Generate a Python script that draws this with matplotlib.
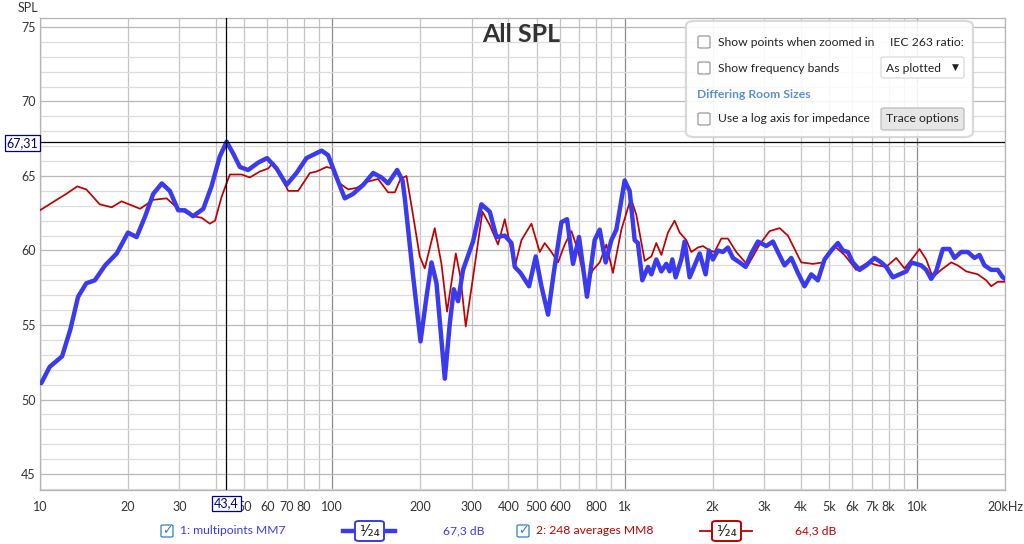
import matplotlib
matplotlib.use("Agg")
import matplotlib.pyplot as plt
from matplotlib.patches import FancyBboxPatch
from matplotlib.lines import Line2D

plt.rcParams['font.family'] = ['Lato', 'DejaVu Sans']

# trace 1: multipoints MM7 (frequency in Hz, SPL in dB)
blue_freq = [10.1, 10.8, 11.9, 12.7, 13.5, 14.4, 15.4, 16.7, 18.3, 20.0, 21.4, 22.9, 24.4, 26.1,
             27.8, 29.7, 31.3, 33.4, 36.2, 38.6, 41.2, 43.5, 45.8, 48.3, 51.5, 55.8, 59.8, 64.5,
             69.7, 75.4, 81.6, 91.9, 96.7, 103.4, 110.3, 117.8, 127.5, 137.9, 147.3, 155.1, 166.6,
             173.8, 177, 188.4, 200.3, 210.0, 218.4, 227.2, 242.5, 252.2, 260.3, 269.2, 280.0,
             302.9, 323.6, 345.6, 364.3, 388.9, 410.0, 420.8, 440.1, 470.9, 496.4, 519.2, 546.9,
             572.0, 607.7, 635.0, 665.8, 698.1, 743.2, 789.6, 821.3, 861.0, 900.6, 936.8, 1000,
             1040, 1082, 1110, 1149, 1202, 1234, 1283, 1335, 1388, 1425, 1456, 1494, 1562, 1604,
             1668, 1735, 1805, 1892, 1942, 2004, 2084, 2168, 2255, 2346, 2474, 2593, 2712, 2856,
             3051, 3214, 3343, 3524, 3715, 3913, 4124, 4348, 4580, 4828, 5090, 5361, 5577, 5800,
             6033, 6361, 6706, 7157, 7545, 7847, 8269, 8716, 9188, 9555, 9938, 10337, 10752,
             11183, 11632, 12252, 12916, 13435, 14162, 14918, 15728, 16360, 17016, 17939, 18893,
             19651, 20000]
blue_spl = [51.1, 52.2, 52.9, 54.7, 56.9, 57.8, 58.0, 59.0, 59.8, 61.2, 60.9, 62.3, 63.8, 64.5,
            64.0, 62.7, 62.7, 62.3, 62.8, 64.3, 66.3, 67.3, 66.5, 65.6, 65.4, 65.9, 66.2, 65.5,
            64.4, 65.2, 66.2, 66.7, 66.4, 64.9, 63.5, 63.8, 64.4, 65.2, 64.9, 64.5, 65.4,
            64.7, 63.5, 58.5, 53.9, 56.9, 59.2, 57.8, 51.4, 55.1, 57.4, 56.6, 58.7,
            60.6, 63.1, 62.6, 60.9, 61.0, 60.5, 58.9, 58.5, 57.6, 59.6, 57.6, 55.7,
            58.5, 61.9, 62.1, 59.1, 60.9, 56.9, 60.7, 61.4, 59.2, 60.7, 61.4, 64.7,
            64.0, 60.7, 60.5, 58.0, 58.9, 58.4, 59.4, 58.6, 59.1, 58.6, 59.4, 58.2, 59.4, 60.6,
            58.2, 59.0, 59.8, 58.4, 60.0, 59.4, 60.0, 59.9, 60.2, 59.5, 59.2, 58.9, 59.8, 60.6,
            60.3, 60.6, 59.9, 59.0, 59.5, 58.5, 57.6, 58.4, 58.0, 59.4, 60.0, 60.5, 60.0, 59.9,
            59.2, 58.7, 59.0, 59.5, 59.2, 58.9, 58.2, 58.4, 58.6, 59.2, 59.1, 59.0, 58.7,
            58.1, 58.6, 60.1, 60.1, 59.5, 59.9, 59.9, 59.5, 59.7, 59.0, 58.7, 58.7,
            58.2, 58.1]

# trace 2: 248 averages MM8
red_freq = [10.0, 11.4, 12.3, 13.4, 14.4, 16.0, 17.6, 19.0, 22.0, 24.4, 27.1, 29.7, 33.4, 35.7,
            38.1, 39.7, 41.8, 44.6, 48.9, 52.2, 56.5, 60.3, 62.8, 66.1, 70.6, 76.4, 83.8, 88.3,
            95.5, 100.6, 106.1, 113.3, 121.0, 130.9, 143.4, 155.1, 163.6, 171.1, 179.3, 188.0,
            199.1, 207.1, 224.0, 236.2, 246.9, 264.5, 274.4, 286.0, 302.9, 326.2, 345.6, 368.8,
            388.9, 420.8, 443.6, 479.8, 512.2, 532.8, 561.6, 591.6, 623.6, 657.5, 692.4, 735.7,
            779.2, 821.3, 865.8, 912.0, 974.3, 1050, 1096, 1171, 1234, 1283, 1335, 1406, 1482,
            1542, 1625, 1690, 1781, 1852, 1953, 2031, 2141, 2255, 2409, 2640, 2894, 3131, 3388,
            3617, 4019, 4404, 4762, 5222, 5650, 6195, 6790, 7341, 7847, 8491, 9064, 9674, 10197,
            10752, 11324, 12093, 13088, 13790, 14733, 16142, 17245, 17939, 18893, 20000]
red_spl = [62.7, 63.4, 63.8, 64.3, 64.1, 63.1, 62.9, 63.3, 62.8, 63.4, 63.5, 62.8, 62.3, 62.2,
           61.8, 62.0, 63.6, 65.1, 65.1, 64.9, 65.3, 65.5, 65.9, 65.2, 64.0, 64.0, 65.2, 65.3,
           65.6, 65.5, 64.5, 64.1, 64.2, 64.6, 64.8, 63.9, 63.9, 64.8, 65.0, 62.6,
           59.6, 58.8, 61.5, 59.1, 55.9, 59.8, 58.2, 54.9, 58.2, 62.6, 61.7, 60.4,
           62.1, 58.9, 60.7, 61.8, 59.9, 60.5, 59.9, 59.2, 60.4, 61.3, 60.0, 57.7,
           58.7, 59.2, 60.4, 58.5, 61.4, 63.5, 62.4, 59.3, 59.6, 60.5, 59.7, 61.2, 62.0,
           61.2, 60.7, 59.9, 60.2, 60.3, 60.0, 59.9, 60.8, 60.8, 59.9, 59.0, 60.4, 61.3, 61.5,
           61.0, 59.2, 59.1, 59.2, 60.3, 59.7, 58.7, 59.2, 59.0, 58.9, 59.5, 58.8, 59.5, 60.1,
           59.4, 58.2, 58.7, 59.2, 59.0, 58.6, 58.4, 58.0, 57.6, 57.9, 57.9]

cursor_freq = 43.4
cursor_spl = 67.31

x_major = [10, 100, 1000, 10000]
x_major_labels = ['10', '100', '1k', '10k']
x_minor = [20, 30, 40, 50, 60, 70, 80, 90, 200, 300, 400, 500, 600, 700, 800, 900,
           2000, 3000, 4000, 5000, 6000, 7000, 8000, 9000, 20000]
x_minor_labels = ['20', '30', '', '50', '60', '70', '80', '', '200', '300', '400', '500', '600',
                  '', '800', '', '2k', '3k', '4k', '5k', '6k', '7k', '8k', '', '20kHz']
y_major = [45, 50, 55, 60, 65, 70, 75]

BLUE = '#3a3aee'
RED = '#c00000'
TXT = '#333333'

W, H = 1024, 544


def fx(x):
    return x / W


def fy(y):
    return 1 - y / H


fig = plt.figure(figsize=(10.24, 5.44), dpi=100)
ax = fig.add_axes([fx(40), fy(490), fx(1005) - fx(40), fy(18) - fy(490)])

ax.set_xscale('log')
ax.set_xlim(10, 20000)
ax.set_ylim(43.93, 75.6)

ax.set_xticks(x_major)
ax.set_xticklabels(x_major_labels)
ax.set_xticks(x_minor, minor=True)
ax.set_xticklabels(x_minor_labels, minor=True)
ax.set_yticks(y_major)
ax.set_yticks(range(44, 76), minor=True)
ax.set_yticklabels([str(v) for v in y_major])

ax.tick_params(which='both', length=0, labelsize=9, labelcolor=TXT)
ax.tick_params(axis='x', which='both', pad=8)
ax.tick_params(axis='y', which='both', pad=3)

ax.grid(True, axis='x', which='major', color='#8c8c8c', lw=0.9)
ax.grid(True, axis='x', which='minor', color='#c4c4c4', lw=0.9)
ax.grid(True, axis='y', which='major', color='#b8b8b8', lw=0.9)
ax.grid(True, axis='y', which='minor', color='#dcdcdc', lw=0.9)
ax.set_axisbelow(True)
for s in ax.spines.values():
    s.set_color('#b4b4b4')
    s.set_linewidth(0.9)

ax.plot(red_freq, red_spl, color=RED, lw=1.25, solid_joinstyle='round', zorder=3)
ax.plot(blue_freq, blue_spl, color=BLUE, lw=3.2, solid_joinstyle='round',
        solid_capstyle='round', zorder=4)

# cursor
ax.axvline(cursor_freq, color='black', lw=0.9, zorder=5)
ax.axhline(cursor_spl, color='black', lw=0.9, zorder=5)

fig.text(fx(28), fy(8), 'SPL', fontsize=9, color=TXT, ha='center', va='center')
fig.text(fx(521), fy(34), 'All SPL', fontsize=18, fontweight='bold', color=TXT,
         ha='center', va='center')

# cursor value boxes
fig.text(fx(22.5), fy(143), '67,31', fontsize=9, color='#00008b', ha='center', va='center',
         bbox=dict(boxstyle='square,pad=0.15', fc='white', ec='#00008b', lw=0.9))
fig.text(fx(226.5), fy(503.5), '43,4', fontsize=9, color='#00008b', ha='center', va='center',
         bbox=dict(boxstyle='square,pad=0.15', fc='white', ec='#00008b', lw=0.9))

# options panel
panel = FancyBboxPatch((fx(688), fy(136)), fx(975) - fx(688) - 0.004, fy(22) - fy(136),
                       boxstyle='round,pad=0.002,rounding_size=0.009', transform=fig.transFigure,
                       fc='white', ec='#d4d4d4', lw=1.6, alpha=0.88, zorder=10)
fig.add_artist(panel)


def checkbox(x, y, checked=False, color='#9a9a9a'):
    box = FancyBboxPatch((fx(x), fy(y + 6)), 12 / W, 12 / H,
                         boxstyle='round,pad=0,rounding_size=0.002', transform=fig.transFigure,
                         fc='white', ec=color, lw=0.9, zorder=11)
    fig.add_artist(box)
    if checked:
        fig.text(fx(x + 6.5), fy(y), '\u2713', fontsize=9, color=color, ha='center',
                 va='center', zorder=12, family=['DejaVu Sans'])


PANEL_FS = 8.7
checkbox(698, 42)
fig.text(fx(718), fy(42), 'Show points when zoomed in', fontsize=PANEL_FS, color='#222222',
         va='center', zorder=12)
fig.text(fx(890), fy(42), 'IEC 263 ratio:', fontsize=PANEL_FS, color='#222222', va='center',
         zorder=12)
checkbox(698, 68)
fig.text(fx(718), fy(68), 'Show frequency bands', fontsize=PANEL_FS, color='#222222',
         va='center', zorder=12)
drop = FancyBboxPatch((fx(881), fy(78)), 83 / W, 21 / H,
                      boxstyle='round,pad=0,rounding_size=0.003', transform=fig.transFigure,
                      fc='white', ec='#dadada', lw=0.9, zorder=11)
fig.add_artist(drop)
fig.text(fx(886), fy(68), 'As plotted', fontsize=PANEL_FS, color='#222222', va='center',
         zorder=12)
fig.text(fx(955), fy(67), '\u25bc', fontsize=6.5, color='#222222', ha='center', va='center',
         zorder=12, family=['DejaVu Sans'])
fig.text(fx(697), fy(94), 'Differing Room Sizes', fontsize=PANEL_FS, fontweight='bold',
         color='#5b8ed8', va='center', zorder=12)
checkbox(698, 119)
fig.text(fx(718), fy(119), 'Use a log axis for impedance', fontsize=PANEL_FS, color='#222222',
         va='center', zorder=12)
btn = FancyBboxPatch((fx(881), fy(130)), 83 / W, 22 / H,
                     boxstyle='round,pad=0,rounding_size=0.003', transform=fig.transFigure,
                     fc='#e6e6e6', ec='#bcbcbc', lw=0.9, zorder=11)
fig.add_artist(btn)
fig.text(fx(922.5), fy(119), 'Trace options', fontsize=PANEL_FS, color='#222222', ha='center',
         va='center', zorder=12)

# legend row
LEG_Y = 531


def legend_item(x0, name, value, color, lw, sample_x, value_x):
    checkbox(x0, LEG_Y, checked=True, color='#2f7fd0')
    fig.text(fx(x0 + 19), fy(LEG_Y), name, fontsize=8.7, color=color, va='center')
    fig.add_artist(Line2D([fx(sample_x), fx(sample_x + 52)], [fy(LEG_Y), fy(LEG_Y)],
                          transform=fig.transFigure, color=color, lw=lw))
    box = FancyBboxPatch((fx(sample_x + 12), fy(LEG_Y + 10)), 29 / W, 20 / H,
                         boxstyle='round,pad=0,rounding_size=0.004', transform=fig.transFigure,
                         fc='white', ec=color, lw=1.4, zorder=11)
    fig.add_artist(box)
    fig.text(fx(sample_x + 26.5), fy(LEG_Y), '\u00b9\u2044\u2082\u2084', fontsize=11,
             color='#222222', ha='center', va='center', zorder=12, family=['DejaVu Sans'])
    fig.text(fx(value_x), fy(LEG_Y), value, fontsize=8.7, color=color, va='center')


legend_item(161, '1: multipoints MM7', '67,3 dB', BLUE, 3.2, 343, 443)
legend_item(517, '2: 248 averages MM8', '64,3 dB', RED, 1.3, 700, 795)

fig.savefig('out.png', dpi=100)
